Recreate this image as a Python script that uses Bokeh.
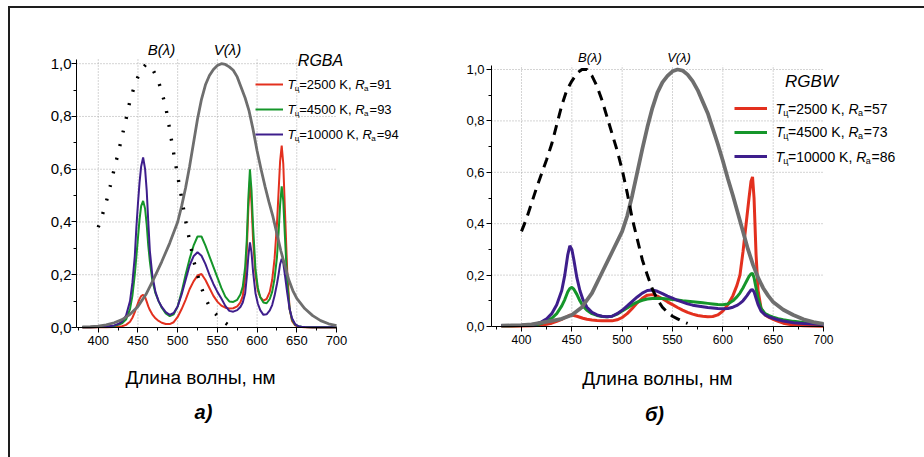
from bokeh.plotting import figure
from bokeh.models import FixedTicker, CustomJSTickFormatter, Label, Legend, LegendItem
from bokeh.layouts import row
from bokeh.core.properties import value
from bokeh.embed import file_html
from bokeh.resources import INLINE

# ---------------- data ----------------
# panel a) RGBA
wl_a = [380, 390, 400, 410, 420, 425, 430, 435, 440, 443, 446, 448, 450, 452, 454, 456.5, 459, 461, 463, 465,
        468, 472, 476, 480, 485, 490, 495, 500, 505, 510, 515, 520, 525, 530, 535, 540, 545, 550, 555, 560,
        565, 570, 575, 579, 582, 585, 587, 589, 591, 593, 595, 598, 601, 604, 608, 612, 616, 619, 622, 625,
        627, 629, 631, 633, 635, 638, 641, 644, 648, 652, 656, 660, 670, 680, 690, 700]
red_a = [0.0, 0.0, 0.001, 0.001, 0.002, 0.003, 0.005, 0.01, 0.022, 0.037, 0.058, 0.076, 0.093, 0.108, 0.119, 0.124, 0.115, 0.098, 0.08, 0.066,
         0.05, 0.035, 0.025, 0.018, 0.013, 0.013, 0.02, 0.04, 0.07, 0.105, 0.145, 0.175, 0.197, 0.203, 0.18, 0.15, 0.12, 0.098, 0.083, 0.075,
         0.072, 0.073, 0.08, 0.095, 0.12, 0.19, 0.29, 0.45, 0.555, 0.47, 0.33, 0.2, 0.14, 0.115, 0.102, 0.108, 0.135, 0.18, 0.26, 0.39,
         0.51, 0.63, 0.69, 0.62, 0.45, 0.21, 0.07, 0.025, 0.008, 0.003, 0.002, 0.001, 0.0, 0.0, 0.0, 0.0]
green_a = [0.001, 0.001, 0.002, 0.003, 0.006, 0.01, 0.016, 0.03, 0.07, 0.12, 0.2, 0.27, 0.34, 0.41, 0.46, 0.48, 0.45, 0.39, 0.31, 0.25,
           0.18, 0.13, 0.1, 0.075, 0.053, 0.043, 0.05, 0.08, 0.135, 0.2, 0.26, 0.31, 0.345, 0.345, 0.31, 0.27, 0.23, 0.19, 0.15, 0.117,
           0.099, 0.097, 0.105, 0.125, 0.155, 0.23, 0.33, 0.49, 0.6, 0.52, 0.38, 0.22, 0.15, 0.115, 0.095, 0.092, 0.108, 0.135, 0.185, 0.265,
           0.355, 0.465, 0.535, 0.48, 0.35, 0.17, 0.07, 0.03, 0.01, 0.005, 0.003, 0.002, 0.001, 0.001, 0.001, 0.001]
purple_a = [0.001, 0.001, 0.002, 0.003, 0.008, 0.013, 0.022, 0.045, 0.1, 0.17, 0.27, 0.38, 0.47, 0.55, 0.61, 0.645, 0.6, 0.52, 0.4, 0.29,
            0.2, 0.135, 0.1, 0.078, 0.058, 0.048, 0.055, 0.08, 0.125, 0.18, 0.235, 0.27, 0.285, 0.272, 0.24, 0.2, 0.165, 0.135, 0.11, 0.082,
            0.063, 0.06, 0.066, 0.078, 0.095, 0.13, 0.19, 0.27, 0.323, 0.285, 0.21, 0.13, 0.09, 0.066, 0.048, 0.05, 0.065, 0.085, 0.12, 0.165,
            0.2, 0.24, 0.26, 0.245, 0.2, 0.13, 0.07, 0.035, 0.012, 0.005, 0.003, 0.002, 0.001, 0.001, 0.001, 0.001]

# panel б) RGBW
wl_b = [380, 390, 400, 410, 415, 420, 425, 430, 435, 440, 443, 446, 448, 450, 452, 455, 458, 461, 465, 470,
        475, 480, 485, 490, 495, 500, 505, 510, 515, 520, 525, 530, 535, 540, 545, 550, 555, 560, 565, 570,
        575, 580, 585, 590, 595, 600, 605, 610, 614, 617, 620, 622, 624, 626, 628, 629.5, 631, 633, 635, 638,
        642, 646, 650, 655, 660, 670, 680, 690, 700]
red_b = [0.001, 0.001, 0.002, 0.003, 0.004, 0.006, 0.009, 0.013, 0.02, 0.028, 0.034, 0.04, 0.044, 0.045, 0.043, 0.04, 0.036, 0.032, 0.028, 0.025,
         0.023, 0.022, 0.022, 0.022, 0.026, 0.035, 0.05, 0.07, 0.092, 0.11, 0.122, 0.124, 0.118, 0.108, 0.096, 0.085, 0.074, 0.064, 0.055, 0.048,
         0.043, 0.04, 0.038, 0.039, 0.045, 0.06, 0.085, 0.12, 0.16, 0.2, 0.29, 0.36, 0.43, 0.5, 0.565, 0.582, 0.5, 0.28, 0.14, 0.07,
         0.045, 0.035, 0.028, 0.02, 0.013, 0.006, 0.003, 0.002, 0.001]
green_b = [0.003, 0.003, 0.004, 0.005, 0.007, 0.012, 0.02, 0.032, 0.05, 0.08, 0.105, 0.135, 0.148, 0.152, 0.145, 0.125, 0.1, 0.08, 0.063, 0.05,
           0.043, 0.039, 0.038, 0.04, 0.048, 0.06, 0.072, 0.085, 0.095, 0.102, 0.107, 0.109, 0.11, 0.109, 0.107, 0.105, 0.103, 0.1, 0.098, 0.096,
           0.094, 0.092, 0.09, 0.088, 0.086, 0.085, 0.088, 0.1, 0.115, 0.13, 0.15, 0.165, 0.18, 0.195, 0.205, 0.207, 0.19, 0.15, 0.11, 0.07,
           0.05, 0.042, 0.036, 0.03, 0.026, 0.02, 0.016, 0.012, 0.01]
purple_b = [0.004, 0.004, 0.005, 0.007, 0.01, 0.018, 0.03, 0.05, 0.085, 0.14, 0.2, 0.28, 0.314, 0.3, 0.26, 0.19, 0.14, 0.105, 0.075, 0.055,
            0.045, 0.04, 0.038, 0.04, 0.05, 0.063, 0.08, 0.098, 0.115, 0.13, 0.14, 0.142, 0.137, 0.128, 0.118, 0.11, 0.102, 0.095, 0.088, 0.083,
            0.08, 0.077, 0.074, 0.072, 0.07, 0.069, 0.07, 0.075, 0.082, 0.09, 0.1, 0.11, 0.12, 0.132, 0.142, 0.143, 0.135, 0.11, 0.085, 0.06,
            0.045, 0.037, 0.032, 0.026, 0.021, 0.015, 0.012, 0.01, 0.008]

# B(lambda) curves
wl_blue = [400, 405, 410, 415, 420, 425, 430, 435, 440, 445, 450, 455, 460, 465, 470, 475, 480, 485, 490, 495,
           500, 505, 510, 515, 520, 525, 530, 535, 540, 545, 550, 555, 560, 565]
blue_a = [0.38, 0.425, 0.475, 0.535, 0.6, 0.66, 0.725, 0.79, 0.86, 0.91, 0.95, 0.98, 0.997, 0.996, 0.97, 0.94, 0.893, 0.835, 0.75, 0.66,
          0.575, 0.49, 0.405, 0.33, 0.255, 0.2, 0.15, 0.11, 0.08, 0.06, 0.045, 0.03, 0.018, 0.007]
blue_b = [0.37, 0.42, 0.48, 0.54, 0.595, 0.65, 0.71, 0.785, 0.86, 0.92, 0.955, 0.985, 1.0, 1.0, 0.975, 0.935, 0.88, 0.815, 0.75, 0.685,
          0.61, 0.52, 0.42, 0.34, 0.26, 0.2, 0.145, 0.105, 0.075, 0.055, 0.04, 0.03, 0.02, 0.012]

# V(lambda) curves
wl_v = [380, 390, 400, 410, 420, 430, 440, 450, 460, 470, 480, 490, 500, 505, 510, 515, 520, 525, 530, 535,
        540, 545, 550, 555, 560, 565, 570, 575, 580, 585, 590, 595, 600, 605, 610, 615, 620, 625, 630, 635,
        640, 645, 650, 660, 670, 680, 690, 700]
v_a = [0.002, 0.003, 0.005, 0.01, 0.018, 0.03, 0.05, 0.08, 0.125, 0.185, 0.25, 0.32, 0.4, 0.46, 0.53, 0.61, 0.7, 0.79, 0.865, 0.92,
       0.955, 0.978, 0.993, 1.0, 0.997, 0.988, 0.975, 0.95, 0.91, 0.87, 0.82, 0.75, 0.67, 0.6, 0.535, 0.475, 0.42, 0.355, 0.29, 0.235,
       0.18, 0.14, 0.11, 0.072, 0.045, 0.026, 0.014, 0.007]
v_b = [0.003, 0.004, 0.005, 0.008, 0.015, 0.022, 0.03, 0.045, 0.075, 0.13, 0.21, 0.29, 0.37, 0.43, 0.51, 0.6, 0.69, 0.775, 0.85, 0.91,
       0.95, 0.975, 0.993, 1.0, 0.996, 0.98, 0.955, 0.92, 0.875, 0.83, 0.77, 0.71, 0.645, 0.575, 0.51, 0.44, 0.37, 0.3, 0.24, 0.19,
       0.15, 0.12, 0.095, 0.065, 0.045, 0.028, 0.017, 0.01]

x_ticks = [400, 450, 500, 550, 600, 650, 700]
x_minor = [375, 425, 475, 525, 575, 625, 675]
y_ticks = [0.0, 0.2, 0.4, 0.6, 0.8, 1.0]
y_minor = [0.1, 0.3, 0.5, 0.7, 0.9]
x_grid = [400, 450, 500, 550, 600, 650]
y_grid = [0.2, 0.4, 0.6, 0.8, 1.0]

legend_a = [("2500", "91"), ("4500", "93"), ("10000", "94")]
legend_b = [("2500", "57"), ("4500", "73"), ("10000", "86")]
x_title = "Длина волны, нм"

RED = "#e3301e"
GREEN = "#15962a"
PURPLE = "#3e1e8c"
GRAY = "#6e6e6e"
FONT = "Liberation Sans"


def make_panel(cw, ch, ax_x, ax_y, x0, x1, ppn, y1, ppu, wl, series, blue, vv, lw, blue_dash,
               xfont, xsize, yfont, ysize, ystand):
    # whole canvas is the frame; axes are pinned at x0 / 0
    xr = (x0 - ax_x / ppn, x0 + (cw - ax_x) / ppn)
    yr = (-(ch - ax_y) / ppu, ax_y / ppu)
    p = figure(width=cw, height=ch, x_range=xr, y_range=yr,
               output_backend="svg", toolbar_location=None,
               min_border_left=0, min_border_right=0, min_border_top=0, min_border_bottom=0)
    p.outline_line_color = None
    p.background_fill_color = "white"
    p.border_fill_color = None
    p.xgrid.visible = False
    p.ygrid.visible = False
    xa = p.xaxis[0]
    ya = p.yaxis[0]
    xa.fixed_location = 0
    ya.fixed_location = x0
    xa.bounds = (x0, x1)
    ya.bounds = (0, y1)
    xa.ticker = FixedTicker(ticks=x_ticks, minor_ticks=x_minor)
    ya.ticker = FixedTicker(ticks=y_ticks, minor_ticks=y_minor)
    ya.formatter = CustomJSTickFormatter(code="return tick.toFixed(1).replace('.', ',');")
    for ax in (xa, ya):
        ax.axis_line_color = "black"
        ax.axis_line_width = 1
        ax.major_tick_line_color = "black"
        ax.minor_tick_line_color = "black"
        ax.major_tick_in = 0
        ax.major_tick_out = 5
        ax.minor_tick_in = 0
        ax.minor_tick_out = 3
        ax.major_label_text_color = "black"
    xa.major_label_text_font = xfont
    xa.major_label_text_font_size = xsize
    xa.major_label_standoff = 3
    ya.major_label_text_font = yfont
    ya.major_label_text_font_size = ysize
    ya.major_label_standoff = ystand
    # dotted grid inside the data box
    p.segment(x0=x_grid, y0=[0] * len(x_grid), x1=x_grid, y1=[y1] * len(x_grid),
              line_color="#a8a8a8", line_dash="1 2", line_width=1)
    p.segment(x0=[x0] * len(y_grid), y0=y_grid, x1=[x1] * len(y_grid), y1=y_grid,
              line_color="#a8a8a8", line_dash="1 2", line_width=1)
    rends = []
    for ys, col in zip(series, (RED, GREEN, PURPLE)):
        rends.append(p.line(wl, ys, line_color=col, line_width=lw))
    p.line(wl_v, vv, line_color=GRAY, line_width=lw + 0.8)
    if blue_dash == "dot":
        p.line(wl_blue, blue, line_color="black", line_width=3.4, line_dash="2 12")
    else:
        p.line(wl_blue, blue, line_color="black", line_width=3, line_dash="10 7")
    return p, rends


def add_legend(p, rends, loc, gw, spacing, entries, tx, ys, size, sub_dx):
    items = [LegendItem(label=value(" "), renderers=[r]) for r in rends]
    leg = Legend(items=items, location=loc, glyph_width=gw, glyph_height=24, label_height=24,
                 label_width=0, label_standoff=0, spacing=spacing, padding=0, margin=0,
                 border_line_color=None, background_fill_alpha=0, label_text_font_size="2px")
    p.add_layout(leg)
    fs = f"{size}px"
    ss = f"{round(size * 0.62)}px"
    for (temp, ra), y in zip(entries, ys):
        w_mid = (0.584 + 0.556 * len(temp) + 0.278 + 0.667 + 0.278 + 0.278) * size
        x_r = 0.9 * size + w_mid
        pieces = [
            ("T", 0, 0, fs, "italic"),
            ("ц", 0.56 * size, -4, ss, "normal"),
            (f"={temp} K, ", 0.9 * size, 0, fs, "normal"),
            ("R", x_r, 0, fs, "italic"),
            ("a", x_r + 0.68 * size, -4, ss, "normal"),
            (f"={ra}", x_r + 0.68 * size + sub_dx, 0, fs, "normal"),
        ]
        for txt, dx, dy, fsz, sty in pieces:
            p.add_layout(Label(x=tx, y=y, x_offset=dx, y_offset=dy, text=txt, text_font=FONT,
                               text_font_size=fsz, text_font_style=sty, text_baseline="middle",
                               text_align="left", text_color="black"))


def add_text(p, x, y, txt, size, style, align="center"):
    p.add_layout(Label(x=x, y=y, text=txt, text_font=FONT, text_font_size=size, text_font_style=style,
                       text_align=align, text_baseline="middle", text_color="black"))


# ---------------- panel a ----------------
pA, rA = make_panel(430, 449, 66, 319, 372.6, 700, 0.7941, 1.016, 263.8,
                    wl_a, (red_a, green_a, purple_a), blue_a, v_a, 2, "dot",
                    "'Liberation Sans Narrow', 'Liberation Sans'", "13px", FONT, "15px", 0)
add_legend(pA, rA, (245, 311), 28, 1, legend_a, 638.3, [0.921, 0.826, 0.732], 13, 5.5)
add_text(pA, 479.6, 1.054, "B(λ)", "15px", "italic")
add_text(pA, 562.8, 1.054, "V(λ)", "15px", "italic")
add_text(pA, 679.9, 1.012, "RGBA", "16px", "italic")
add_text(pA, 528.8, -0.19, x_title, "19px", "normal")
add_text(pA, 532.5, -0.322, "а)", "20px", "bold italic")

# ---------------- panel б ----------------
pB, rB = make_panel(484, 449, 51, 318, 370.2, 700, 1.0067, 1.016, 257.0,
                    wl_b, (red_b, green_b, purple_b), blue_b, v_b, 3, "dash",
                    FONT, "12px", FONT, "13px", 2)
add_legend(pB, rB, (294, 289), 33, 0, legend_b, 652.3, [0.848, 0.755, 0.661], 14, 5.8)
add_text(pB, 468.0, 1.047, "B(λ)", "13px", "italic")
add_text(pB, 556.5, 1.047, "V(λ)", "13px", "italic")
add_text(pB, 688.1, 0.953, "RGBW", "17px", "italic")
add_text(pB, 535.1, -0.202, x_title, "19px", "normal")
add_text(pB, 532.1, -0.342, "б)", "20px", "bold italic")

layout = row(pA, pB, margin=(6, 0, 0, 8),
             styles={"border-left": "2px solid #1e1e1e", "border-top": "2px solid #1e1e1e"})

open("out.html", "w").write(file_html(layout, INLINE))
